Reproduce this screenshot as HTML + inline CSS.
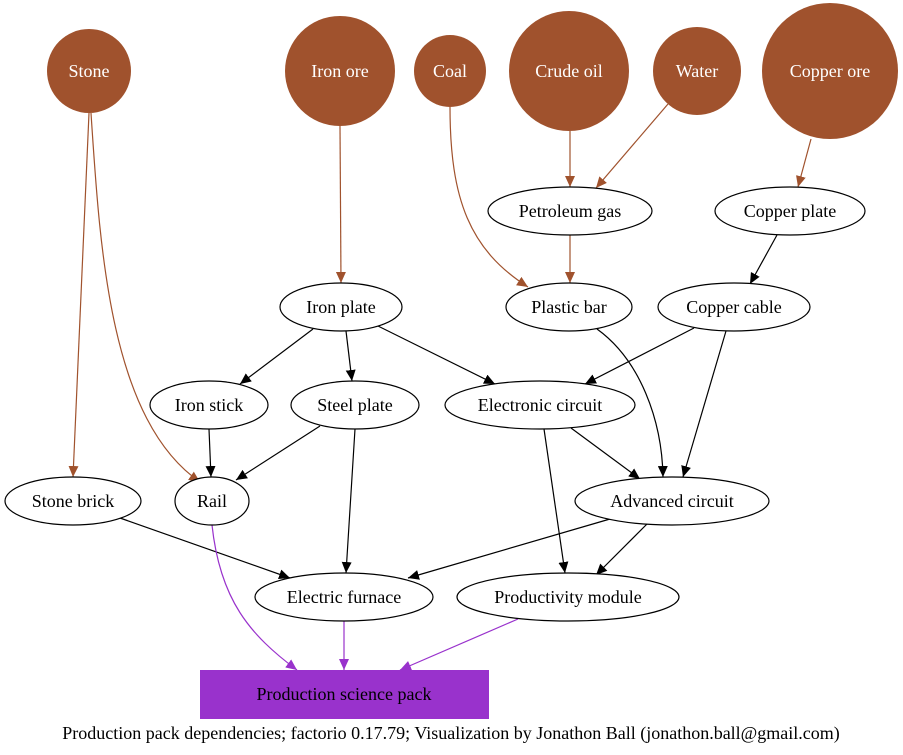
<!DOCTYPE html>
<html><head><meta charset="utf-8"><style>
html,body{margin:0;padding:0;background:#fff;}
svg{display:block;font-family:"Liberation Serif",serif;}
</style></head><body>
<svg width="903" height="755" viewBox="0 0 903 755" xmlns="http://www.w3.org/2000/svg">
<defs>
<marker id="ak" markerUnits="userSpaceOnUse" markerWidth="12" markerHeight="10" refX="11" refY="5" orient="auto"><path d="M0,0 L11,5 L0,10 z" fill="#000"/></marker>
<marker id="ab" markerUnits="userSpaceOnUse" markerWidth="12" markerHeight="10" refX="11" refY="5" orient="auto"><path d="M0,0 L11,5 L0,10 z" fill="#a0522d"/></marker>
<marker id="ap" markerUnits="userSpaceOnUse" markerWidth="12" markerHeight="10" refX="11" refY="5" orient="auto"><path d="M0,0 L11,5 L0,10 z" fill="#9932cc"/></marker>
</defs>
<g fill="none" stroke="#a0522d" stroke-width="1.2" marker-end="url(#ab)">
<path d="M89,113 L73,477"/>
<path d="M91,113 C100,250 110,420 200,482"/>
<path d="M340,126 L341,283"/>
<path d="M450,107 C450,200 470,250 528,287"/>
<path d="M570,131 L570,187"/>
<path d="M668,104 L596,188"/>
<path d="M811,139 L798,187"/>
<path d="M570,235 L570,283"/>
</g>
<g fill="none" stroke="#000" stroke-width="1.2" marker-end="url(#ak)">
<path d="M777,235 L750,284"/>
<path d="M313,329 L240,384"/>
<path d="M346,331 L352,381"/>
<path d="M378,326 L495,384"/>
<path d="M694,328 L585,384"/>
<path d="M726,331 L683,477"/>
<path d="M597,329 C640,360 662,420 663,477"/>
<path d="M209,429 L211,477"/>
<path d="M320,426 L236,480"/>
<path d="M355,429 L346,573"/>
<path d="M571,428 L640,479"/>
<path d="M544,429 L565,573"/>
<path d="M120,518 L290,578"/>
<path d="M610,519 L408,578"/>
<path d="M647,524 L596,575"/>
</g>
<g fill="none" stroke="#9932cc" stroke-width="1.2" marker-end="url(#ap)">
<path d="M212,525 C220,600 250,635 297,670"/>
<path d="M344,621 L344,670"/>
<path d="M518,619 L400,670"/>
</g>
<g fill="#a0522d">
<circle cx="89" cy="71" r="42"/>
<circle cx="340" cy="71" r="55"/>
<circle cx="450" cy="71" r="36"/>
<circle cx="569" cy="71" r="60"/>
<circle cx="697" cy="71" r="44"/>
<circle cx="830" cy="71" r="68"/>
</g>
<g fill="#fff" font-size="18" text-anchor="middle">
<text x="89" y="77">Stone</text>
<text x="340" y="77">Iron ore</text>
<text x="450" y="77">Coal</text>
<text x="569" y="77">Crude oil</text>
<text x="697" y="77">Water</text>
<text x="830" y="77">Copper ore</text>
</g>
<g fill="#fff" stroke="#000" stroke-width="1.2">
<ellipse cx="570" cy="211" rx="82" ry="24"/>
<ellipse cx="790" cy="211" rx="75" ry="24"/>
<ellipse cx="341" cy="307" rx="61" ry="24"/>
<ellipse cx="569" cy="307" rx="63" ry="24"/>
<ellipse cx="734" cy="307" rx="76" ry="24"/>
<ellipse cx="209" cy="405" rx="59" ry="24"/>
<ellipse cx="355" cy="405" rx="64" ry="24"/>
<ellipse cx="540" cy="405" rx="95" ry="24"/>
<ellipse cx="73" cy="501" rx="68" ry="24"/>
<ellipse cx="212" cy="501" rx="37" ry="24"/>
<ellipse cx="672" cy="501" rx="97" ry="24"/>
<ellipse cx="344" cy="597" rx="89" ry="24"/>
<ellipse cx="568" cy="597" rx="111" ry="24"/>
</g>
<rect x="200" y="670" width="289" height="49" fill="#9932cc"/>
<g fill="#000" font-size="18" text-anchor="middle">
<text x="570" y="217">Petroleum gas</text>
<text x="790" y="217">Copper plate</text>
<text x="341" y="313">Iron plate</text>
<text x="569" y="313">Plastic bar</text>
<text x="734" y="313">Copper cable</text>
<text x="209" y="411">Iron stick</text>
<text x="355" y="411">Steel plate</text>
<text x="540" y="411">Electronic circuit</text>
<text x="73" y="507">Stone brick</text>
<text x="212" y="507">Rail</text>
<text x="672" y="507">Advanced circuit</text>
<text x="344" y="603">Electric furnace</text>
<text x="568" y="603">Productivity module</text>
<text x="344" y="700">Production science pack</text>
<text x="451" y="739">Production pack dependencies; factorio 0.17.79; Visualization by Jonathon Ball (jonathon.ball@gmail.com)</text>
</g>
</svg>
</body></html>
